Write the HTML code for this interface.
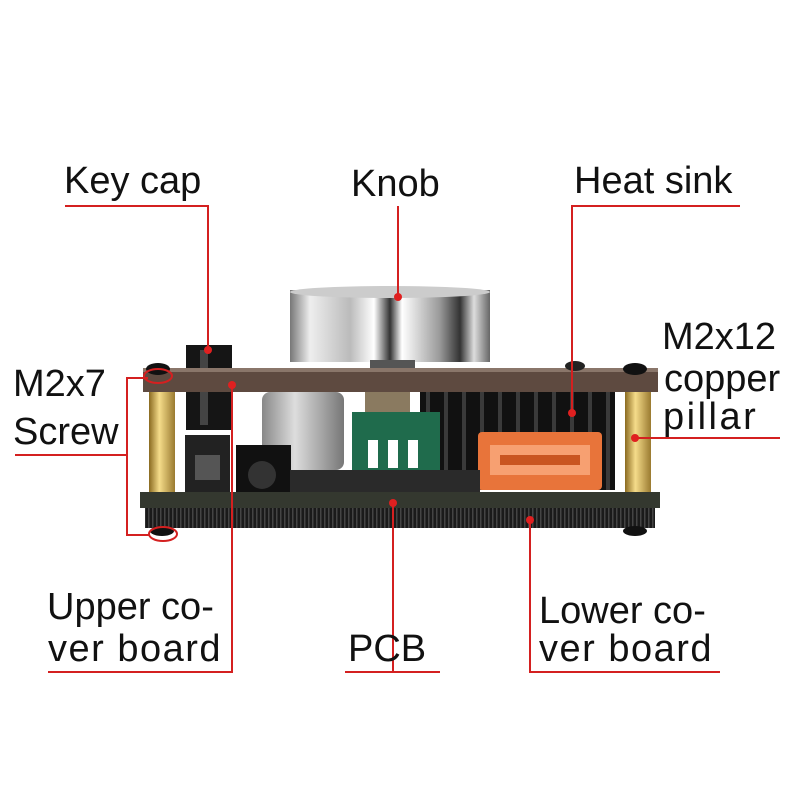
<!DOCTYPE html>
<html><head><meta charset="utf-8"><style>
html,body{margin:0;padding:0;background:#fff;}
svg{display:block}
text{font-family:"Liberation Sans",sans-serif;font-size:38px;fill:#111;}
</style></head><body>
<svg width="800" height="800" viewBox="0 0 800 800" xmlns="http://www.w3.org/2000/svg">
<defs>
<linearGradient id="knob" x1="0" x2="1">
<stop offset="0" stop-color="#777"/><stop offset="0.1" stop-color="#eee"/><stop offset="0.3" stop-color="#bbb"/>
<stop offset="0.42" stop-color="#fff"/><stop offset="0.5" stop-color="#333"/><stop offset="0.56" stop-color="#fff"/>
<stop offset="0.75" stop-color="#999"/><stop offset="0.85" stop-color="#333"/><stop offset="0.92" stop-color="#ddd"/><stop offset="1" stop-color="#666"/>
</linearGradient>
<linearGradient id="gold" x1="0" x2="1">
<stop offset="0" stop-color="#8a6a20"/><stop offset="0.4" stop-color="#f5dc8a"/><stop offset="1" stop-color="#9a7a30"/>
</linearGradient>
<linearGradient id="cap" x1="0" x2="1">
<stop offset="0" stop-color="#888"/><stop offset="0.4" stop-color="#ddd"/><stop offset="1" stop-color="#777"/>
</linearGradient>
<pattern id="teeth" width="4" height="20" patternUnits="userSpaceOnUse">
<rect width="4" height="20" fill="#1a1a1a"/><rect width="1.5" height="20" fill="#444"/>
</pattern>
<pattern id="fins" width="18" height="100" patternUnits="userSpaceOnUse">
<rect width="18" height="100" fill="#111"/><rect x="12" width="4" height="100" fill="#3a3a3a"/>
</pattern>
</defs>

<rect x="290" y="290" width="200" height="72" fill="url(#knob)"/>
<ellipse cx="390" cy="292" rx="100" ry="6" fill="#ccc"/>
<rect x="370" y="360" width="45" height="12" fill="#555"/>

<rect x="186" y="345" width="46" height="85" fill="#151515"/>
<rect x="200" y="350" width="8" height="75" fill="#444"/>

<rect x="420" y="388" width="195" height="102" fill="url(#fins)"/>

<rect x="262" y="392" width="82" height="78" rx="8" fill="url(#cap)"/>
<rect x="365" y="385" width="45" height="30" fill="#8a7a60"/>
<rect x="352" y="412" width="88" height="60" fill="#1f6b4c"/>
<rect x="368" y="440" width="10" height="28" fill="#fff"/><rect x="388" y="440" width="10" height="28" fill="#fff"/><rect x="408" y="440" width="10" height="28" fill="#fff"/>
<rect x="355" y="470" width="90" height="20" fill="#222"/>
<rect x="236" y="445" width="55" height="58" fill="#111"/>
<circle cx="262" cy="475" r="14" fill="#333"/>
<rect x="185" y="435" width="45" height="60" fill="#222"/>
<rect x="195" y="455" width="25" height="25" fill="#555"/>
<rect x="478" y="432" width="124" height="58" rx="4" fill="#e8743a"/>
<rect x="490" y="445" width="100" height="30" fill="#f7a071"/>
<rect x="500" y="455" width="80" height="10" fill="#c95520"/>
<rect x="290" y="470" width="190" height="24" fill="#2a2a2a"/>

<rect x="149" y="390" width="26" height="104" fill="url(#gold)"/>
<rect x="625" y="390" width="26" height="104" fill="url(#gold)"/>

<rect x="143" y="368" width="515" height="24" fill="#5e4a40"/>
<rect x="143" y="368" width="515" height="4" fill="#8a766a"/>
<ellipse cx="158" cy="369" rx="12" ry="6" fill="#111"/>
<ellipse cx="635" cy="369" rx="12" ry="6" fill="#111"/>
<ellipse cx="575" cy="366" rx="10" ry="5" fill="#222"/>

<rect x="140" y="492" width="520" height="16" fill="#34382f"/>
<rect x="145" y="508" width="510" height="20" fill="url(#teeth)"/>
<ellipse cx="162" cy="531" rx="12" ry="5" fill="#111"/>
<ellipse cx="635" cy="531" rx="12" ry="5" fill="#111"/>

<g stroke="#d42020" stroke-width="2" fill="none">
<polyline points="65,206 208,206 208,350"/>
<line x1="398" y1="206" x2="398" y2="297"/>
<polyline points="740,206 572,206 572,413"/>
<line x1="635" y1="438" x2="780" y2="438"/>
<polyline points="15,455 127,455"/>
<polyline points="148,378 127,378 127,535 150,535"/>
<ellipse cx="158" cy="376" rx="14" ry="7"/>
<ellipse cx="163" cy="534" rx="14" ry="7"/>
<polyline points="48,672 232,672 232,385"/>
<polyline points="345,672 440,672"/>
<line x1="393" y1="503" x2="393" y2="672"/>
<polyline points="720,672 530,672 530,520"/>
</g>
<g fill="#e02020">
<circle cx="208" cy="350" r="4"/><circle cx="398" cy="297" r="4"/><circle cx="572" cy="413" r="4"/>
<circle cx="635" cy="438" r="4"/><circle cx="232" cy="385" r="4"/><circle cx="393" cy="503" r="4"/><circle cx="530" cy="520" r="4"/>
</g>

<text x="64" y="193">Key cap</text>
<text x="351" y="196">Knob</text>
<text x="574" y="193">Heat sink</text>
<text x="662" y="349">M2x12</text>
<text x="664" y="391">copper</text>
<text x="663" y="429" letter-spacing="2.5">pillar</text>
<text x="13" y="396">M2x7</text>
<text x="13" y="444">Screw</text>
<text x="47" y="619">Upper co-</text>
<text x="48" y="661" letter-spacing="1.5">ver board</text>
<text x="348" y="661">PCB</text>
<text x="539" y="623">Lower co-</text>
<text x="539" y="661" letter-spacing="1.5">ver board</text>
</svg>
</body></html>
